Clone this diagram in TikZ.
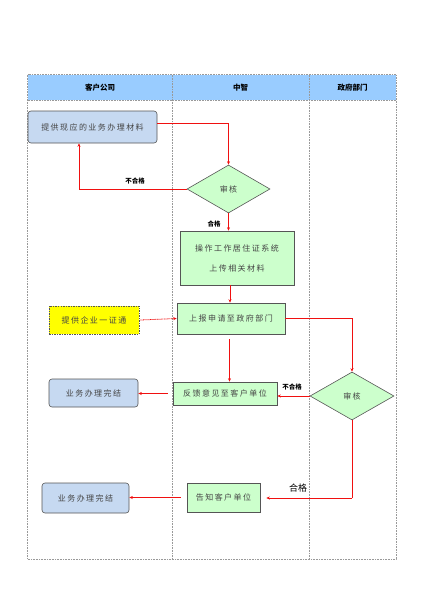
\documentclass[tikz,border=0pt]{standalone}
\usepackage{fontspec}
\setmainfont{Noto Sans CJK SC}
\newfontfamily\boxfont[LetterSpace=18]{Noto Sans CJK SC}
\usetikzlibrary{shapes.geometric,arrows.meta,calc}
\definecolor{hdrblue}{HTML}{99CCFF}
\definecolor{boxblue}{HTML}{C6D9F1}
\definecolor{boxgreen}{HTML}{CCFFCC}
\definecolor{boxyellow}{HTML}{FFFF00}
\definecolor{edge}{HTML}{555555}
\definecolor{txt}{HTML}{444444}
\definecolor{lnred}{HTML}{F01010}
\tikzset{
  frameline/.style={draw=gray!80, line width=0.6pt, dash pattern=on 0.8pt off 0.8pt},
  hdrtext/.style={font=\fontsize{7.5}{9}\selectfont\bfseries, text=black},
  bluebox/.style={draw=edge, fill=boxblue, rounded corners=3pt, line width=0.6pt, text=txt,
     font=\boxfont\fontsize{8}{10}\selectfont, inner sep=0pt},
  greenbox/.style={draw=edge, fill=boxgreen, line width=0.6pt, text=txt,
     font=\boxfont\fontsize{8}{10}\selectfont, inner sep=0pt},
  yellowbox/.style={draw=edge, fill=boxyellow, dash pattern=on 1.5pt off 1pt, line width=0.6pt, text=txt,
     font=\boxfont\fontsize{8}{10}\selectfont, inner sep=0pt},
  decision/.style={diamond, draw=edge, fill=boxgreen, line width=0.6pt, text=txt,
     font=\boxfont\fontsize{8}{10}\selectfont, inner sep=0pt},
  flow/.style={draw=lnred, line width=0.8pt, -{Stealth[length=3.5pt,width=3pt]}},
  plain/.style={draw=lnred, line width=0.8pt},
  lbl/.style={font=\fontsize{6.5}{8}\selectfont\bfseries, text=black, inner sep=0pt},
}
\begin{document}
\begin{tikzpicture}[x=1pt,y=-1pt]
\useasboundingbox (0,0) rectangle (424,600);
% header
\node[draw=none, fill=hdrblue, minimum width=368.5pt, minimum height=25.5pt, inner sep=0pt, anchor=north west] (hdr) at (27.5,74.5) {};
\draw[frameline] (27.5,74.5) rectangle (396,559);
\draw[frameline] (27.5,100) -- (396,100);
\coordinate (c1t) at (172,74.5); \coordinate (c1b) at (172,559);
\coordinate (c2t) at (309,74.5); \coordinate (c2b) at (309,559);
\draw[frameline] (c1t) -- (c1b);
\draw[frameline] (c2t) -- (c2b);
\node[hdrtext] (h1) at (100,87.5) {客户公司};
\node[hdrtext] (h2) at (240.5,87.5) {中智};
\node[hdrtext] (h3) at (352.5,87.5) {政府部门};
% nodes
\node[bluebox, minimum width=129pt, minimum height=32pt] (A) at (92.5,127) {提供现应的业务办理材料};
\node[decision, minimum width=83pt, minimum height=48pt] (D1) at (228.5,189) {审核};
\node[greenbox, minimum width=114pt, minimum height=54pt, align=center] (B) at (237,258)
  {操作工作居住证系统\\[10pt]上传相关材料};
\node[greenbox, minimum width=108pt, minimum height=31pt] (C) at (231,318.5) {上报申请至政府部门};
\node[yellowbox, minimum width=90pt, minimum height=28pt] (Y) at (94,320) {提供企业一证通};
\node[decision, minimum width=84pt, minimum height=48pt] (D2) at (352,396) {审核};
\node[greenbox, minimum width=104pt, minimum height=23pt] (F) at (225,393.5) {反馈意见至客户单位};
\node[bluebox, minimum width=89pt, minimum height=28pt] (E1) at (93.5,393) {业务办理完结};
\node[greenbox, minimum width=73pt, minimum height=29pt] (G) at (223.5,497.5) {告知客户单位};
\node[bluebox, minimum width=87pt, minimum height=30pt] (E2) at (85.5,498) {业务办理完结};
% connectors
\draw[flow] ([yshift=4pt]A.east) -| (D1.north);
\coordinate (Ab) at ([xshift=-13.5pt]A.south);
\draw[flow] (D1.west) -| (Ab);
\node[lbl] (l1) at (135,181) {不合格};
\draw[flow] (D1.south) -- (D1.south |- B.north);
\node[lbl] (l2) at (214,224) {合格};
\draw[flow] ([xshift=-7pt]B.south) -- ([xshift=-1pt]C.north);
\draw[draw=lnred, line width=0.8pt, dash pattern=on 0.8pt off 0.6pt, -{Stealth[length=3.5pt,width=3pt]}]
  ([xshift=1pt]Y.east) -- (C.west);
\draw[flow] (C.east) -| (D2.north);
\draw[flow, shorten <=5pt] ([xshift=-1.5pt]C.south) -- ([xshift=-1.5pt]C.south |- F.north);
\draw[flow] (D2.west) -- (D2.west -| F.east);
\node[lbl] (l3) at (292,387) {不合格};
\draw[flow, shorten <=5pt] (F.west) -- (F.west -| E1.east);
\coordinate (k2) at (352,498);
\draw[plain] (D2.south) -- (k2);
\draw[flow, shorten >=6pt] (k2) -- (k2 -| G.east);
\node[font=\fontsize{9}{11}\selectfont, text=black, inner sep=0pt] (l4) at (298,488) {合格};
\draw[flow, shorten <=6pt] (G.west) -- (G.west -| E2.east);
\end{tikzpicture}
\end{document}
